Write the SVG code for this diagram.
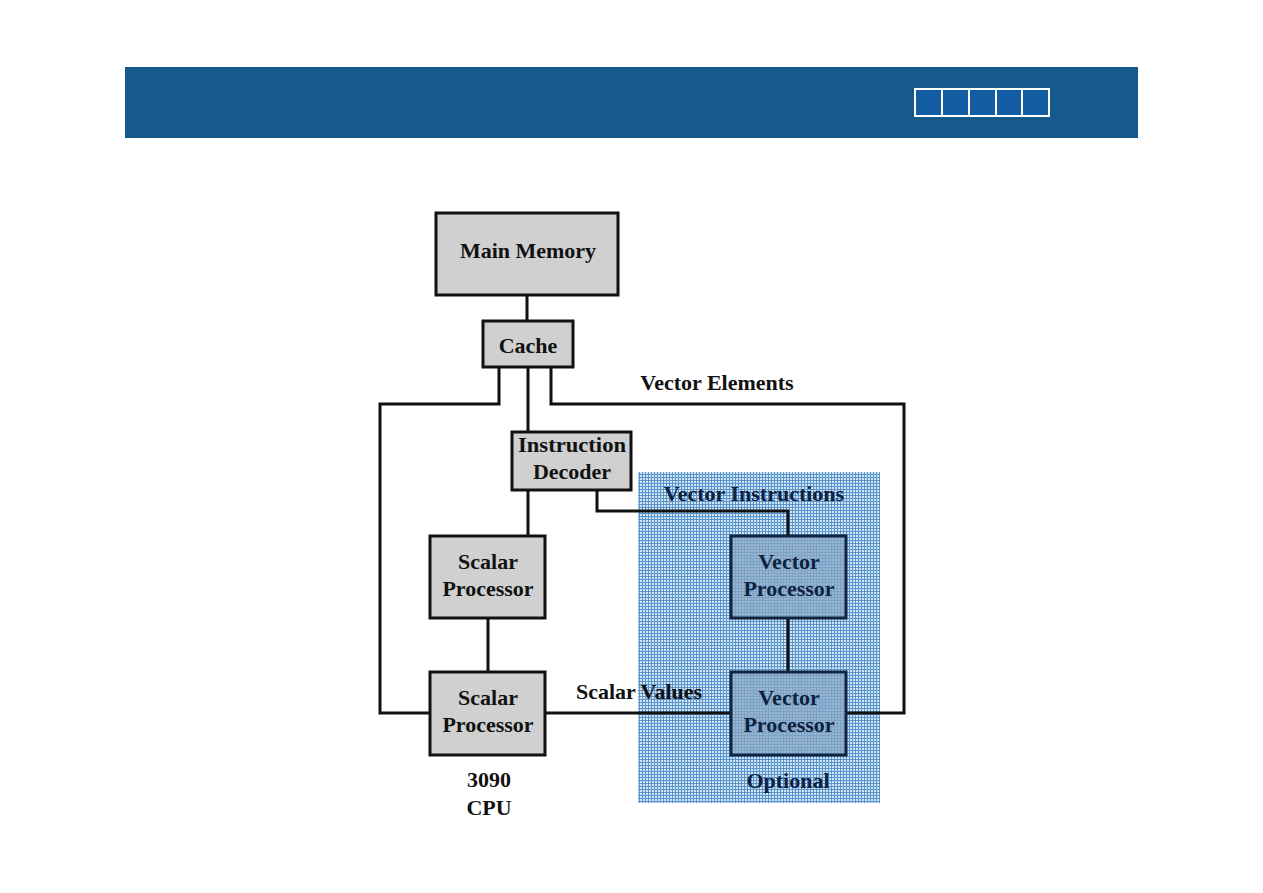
<svg xmlns="http://www.w3.org/2000/svg" width="1263" height="893" viewBox="0 0 1263 893">
<style>
.box{fill:#d0d0d0;stroke:#111;stroke-width:3}
.vbox{fill:#86a6c4;fill-opacity:0.75;stroke:#0f2540;stroke-width:3}
.t{font-family:"Liberation Serif",serif;font-weight:bold;font-size:22px;fill:#111;text-anchor:middle}
.tb{fill:#0d2240}
.c{fill:none;stroke:#111;stroke-width:3}
.hb{fill:#135ea2;stroke:#fff;stroke-width:2}
</style>
<defs>
<pattern id="grid" width="3" height="3" patternUnits="userSpaceOnUse">
<rect width="3" height="3" fill="#d2e3f2"/>
<rect width="3" height="1" fill="#5a94cc"/>
<rect width="1" height="3" fill="#5a94cc"/>
</pattern>
</defs>
<rect width="1263" height="893" fill="#fff"/>
<g id="header">
<rect x="125" y="67" width="1013" height="71" fill="#155a8b"/>
<rect class="hb" x="915" y="89" width="27" height="27"/>
<rect class="hb" x="942" y="89" width="27" height="27"/>
<rect class="hb" x="969" y="89" width="27" height="27"/>
<rect class="hb" x="996" y="89" width="26" height="27"/>
<rect class="hb" x="1022" y="89" width="27" height="27"/>
</g>
<g id="optional-region">
<rect x="638" y="472" width="242" height="331" fill="url(#grid)"/>
</g>
<g id="connectors">
<path class="c" d="M527 295V321"/>
<path class="c" d="M499 367V404H380V713H430"/>
<path class="c" d="M551 367V404H904V713H846"/>
<path class="c" d="M528 367V432"/>
<path class="c" d="M528 490V536"/>
<path class="c" d="M597 490V511H788V536"/>
<path class="c" d="M488 618V672"/>
<path class="c" d="M788 618V672"/>
<path class="c" d="M545 713H731"/>
</g>
<g id="main-memory">
<rect class="box" x="436" y="213" width="182" height="82"/>
<text class="t" x="528" y="258">Main Memory</text>
</g>
<g id="cache">
<rect class="box" x="483" y="321" width="90" height="46"/>
<text class="t" x="528" y="353">Cache</text>
</g>
<g id="instruction-decoder">
<rect class="box" x="512" y="432" width="119" height="58"/>
<text class="t" x="572" y="452" textLength="108" lengthAdjust="spacingAndGlyphs">Instruction</text>
<text class="t" x="572" y="479">Decoder</text>
</g>
<g id="scalar-processor-1">
<rect class="box" x="430" y="536" width="115" height="82"/>
<text class="t" x="488" y="569">Scalar</text>
<text class="t" x="488" y="596">Processor</text>
</g>
<g id="scalar-processor-2">
<rect class="box" x="430" y="672" width="115" height="83"/>
<text class="t" x="488" y="705">Scalar</text>
<text class="t" x="488" y="732">Processor</text>
</g>
<g id="vector-processor-1">
<rect class="vbox" x="731" y="536" width="115" height="82"/>
<text class="t tb" x="789" y="569">Vector</text>
<text class="t tb" x="789" y="596">Processor</text>
</g>
<g id="vector-processor-2">
<rect class="vbox" x="731" y="672" width="115" height="83"/>
<text class="t tb" x="789" y="705">Vector</text>
<text class="t tb" x="789" y="732">Processor</text>
</g>
<g id="labels">
<text class="t" x="717" y="390">Vector Elements</text>
<text class="t tb" x="754" y="501">Vector Instructions</text>
<text class="t" x="639" y="699">Scalar Values</text>
<text class="t tb" x="788" y="788">Optional</text>
<text class="t" x="489" y="787">3090</text>
<text class="t" x="489" y="815">CPU</text>
</g>
</svg>
